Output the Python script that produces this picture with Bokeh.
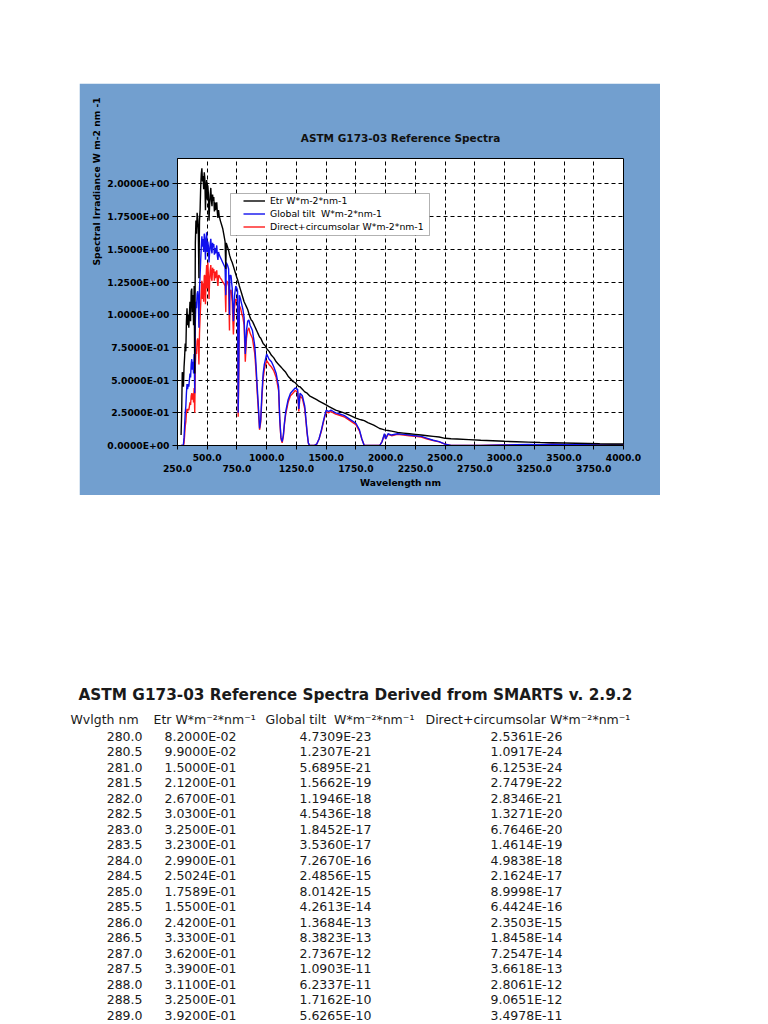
from bokeh.plotting import figure
from bokeh.models import (Range1d, FixedTicker, LinearAxis, Label, BoxAnnotation,
                          Legend, LegendItem, ColumnDataSource, Spacer, Title)
from bokeh.layouts import column, row
from bokeh.core.properties import value
from bokeh.embed import file_html
from bokeh.resources import INLINE

# ---------------- chart data ----------------
wvlgth = [
    280, 285, 290, 295, 300, 305, 310, 315, 320, 325,
    330, 335, 340, 345, 350, 355, 360, 365, 370, 375,
    380, 385, 390, 395, 400, 405, 410, 415, 420, 425,
    430, 435, 440, 445, 450, 455, 460, 465, 470, 475,
    480, 485, 490, 495, 500, 505, 510, 515, 520, 525,
    530, 535, 540, 545, 550, 555, 560, 565, 570, 575,
    580, 585, 590, 595, 600, 610, 620, 630, 640, 650,
    656, 660, 670, 680, 687, 690, 700, 710, 720, 730,
    740, 750, 755, 760, 765, 770, 780, 790, 800, 810,
    820, 830, 840, 850, 860, 870, 880, 890, 900, 910,
    920, 930, 940, 950, 960, 970, 980, 990, 1000, 1020,
    1040, 1060, 1080, 1100, 1110, 1120, 1130, 1140, 1150, 1160,
    1180, 1200, 1220, 1240, 1260, 1270, 1280, 1300, 1320, 1340,
    1350, 1360, 1380, 1400, 1420, 1440, 1460, 1480, 1500, 1520,
    1540, 1560, 1580, 1600, 1650, 1700, 1750, 1780, 1800, 1820,
    1850, 1900, 1950, 1970, 1990, 2000, 2020, 2050, 2100, 2150,
    2200, 2250, 2300, 2350, 2400, 2450, 2500, 2550, 2600, 2700,
    2800, 2900, 3000, 3100, 3200, 3300, 3400, 3500, 3600, 3700,
    3800, 3900, 4000,
]

etr = [
    0.08, 0.25, 0.56, 0.55, 0.45, 0.60, 0.68, 0.78, 0.72, 0.95,
    1.05, 0.92, 1.00, 0.90, 1.00, 1.10, 0.95, 1.18, 1.20, 1.02,
    1.15, 0.92, 1.22, 0.55, 1.55, 1.72, 1.62, 1.78, 1.74, 1.65,
    1.28, 1.72, 1.80, 1.98, 2.08, 2.12, 2.02, 2.06, 1.96, 2.09,
    2.04, 1.80, 1.98, 2.03, 1.88, 1.99, 1.92, 1.72, 1.84, 1.91,
    1.97, 1.88, 1.83, 1.92, 1.87, 1.90, 1.79, 1.86, 1.80, 1.84,
    1.86, 1.78, 1.74, 1.80, 1.76, 1.72, 1.69, 1.66, 1.61, 1.56,
    1.35, 1.55, 1.52, 1.49, 1.46, 1.45, 1.42, 1.40, 1.37, 1.34,
    1.31, 1.28, 1.27, 1.25, 1.24, 1.22, 1.19, 1.16, 1.13, 1.10,
    1.08, 1.06, 1.04, 1.01, 0.98, 0.96, 0.95, 0.93, 0.91, 0.89,
    0.87, 0.85, 0.83, 0.82, 0.80, 0.78, 0.77, 0.76, 0.74, 0.72,
    0.69, 0.67, 0.64, 0.62, 0.61, 0.60, 0.59, 0.58, 0.57, 0.56,
    0.53, 0.51, 0.49, 0.48, 0.46, 0.45, 0.45, 0.43, 0.41, 0.40,
    0.39, 0.38, 0.37, 0.36, 0.35, 0.34, 0.33, 0.32, 0.31, 0.30,
    0.29, 0.28, 0.27, 0.265, 0.25, 0.23, 0.21, 0.20, 0.195, 0.19,
    0.175, 0.155, 0.13, 0.125, 0.12, 0.118, 0.115, 0.11, 0.10, 0.095,
    0.09, 0.085, 0.08, 0.075, 0.07, 0.065, 0.055, 0.052, 0.05, 0.045,
    0.04, 0.036, 0.032, 0.029, 0.026, 0.023, 0.021, 0.019, 0.017, 0.015,
    0.013, 0.012, 0.011,
]

glob_tilt = [
    0.0, 0.0, 0.0, 0.0, 0.01, 0.06, 0.15, 0.25, 0.30, 0.40,
    0.47, 0.43, 0.47, 0.45, 0.50, 0.55, 0.52, 0.62, 0.66, 0.58,
    0.64, 0.55, 0.70, 0.40, 0.95, 1.10, 1.05, 1.16, 1.18, 1.12,
    0.90, 1.20, 1.30, 1.42, 1.52, 1.60, 1.52, 1.58, 1.48, 1.62,
    1.58, 1.42, 1.55, 1.63, 1.48, 1.56, 1.52, 1.40, 1.48, 1.54,
    1.58, 1.50, 1.47, 1.55, 1.52, 1.54, 1.46, 1.51, 1.47, 1.50,
    1.53, 1.45, 1.42, 1.48, 1.46, 1.44, 1.42, 1.40, 1.38, 1.36,
    1.15, 1.40, 1.38, 1.35, 1.00, 1.30, 1.30, 1.20, 0.95, 1.15,
    1.22, 1.20, 1.18, 0.25, 0.60, 1.15, 1.12, 1.08, 1.04, 0.98,
    0.70, 0.88, 0.95, 0.96, 0.92, 0.90, 0.88, 0.82, 0.76, 0.62,
    0.45, 0.30, 0.13, 0.20, 0.40, 0.55, 0.62, 0.66, 0.70, 0.66,
    0.64, 0.60, 0.55, 0.45, 0.20, 0.06, 0.03, 0.08, 0.18, 0.26,
    0.35, 0.40, 0.42, 0.44, 0.43, 0.28, 0.40, 0.38, 0.30, 0.10,
    0.02, 0.0, 0.0, 0.0, 0.01, 0.05, 0.12, 0.20, 0.27, 0.26,
    0.27, 0.26, 0.25, 0.245, 0.23, 0.20, 0.17, 0.12, 0.05, 0.0,
    0.0, 0.0, 0.0, 0.03, 0.09, 0.05, 0.09, 0.08, 0.09, 0.085,
    0.08, 0.075, 0.07, 0.055, 0.04, 0.03, 0.01, 0.0, 0.0, 0.0,
    0.0, 0.002, 0.004, 0.006, 0.008, 0.006, 0.01, 0.008, 0.007, 0.006,
    0.005, 0.005, 0.005,
]

direct = [
    0.0, 0.0, 0.0, 0.0, 0.0, 0.02, 0.08, 0.15, 0.18, 0.25,
    0.28, 0.26, 0.28, 0.27, 0.30, 0.33, 0.31, 0.38, 0.40, 0.35,
    0.40, 0.33, 0.44, 0.25, 0.62, 0.74, 0.70, 0.80, 0.82, 0.78,
    0.62, 0.86, 0.98, 1.08, 1.18, 1.26, 1.12, 1.24, 1.10, 1.30,
    1.30, 1.08, 1.28, 1.38, 1.20, 1.40, 1.30, 1.12, 1.26, 1.34,
    1.38, 1.28, 1.26, 1.36, 1.32, 1.35, 1.26, 1.33, 1.28, 1.32,
    1.34, 1.26, 1.22, 1.30, 1.30, 1.28, 1.27, 1.25, 1.24, 1.22,
    1.02, 1.26, 1.25, 1.22, 0.88, 1.18, 1.19, 1.10, 0.85, 1.06,
    1.12, 1.11, 1.10, 0.22, 0.52, 1.07, 1.05, 1.01, 0.98, 0.92,
    0.64, 0.82, 0.88, 0.90, 0.86, 0.84, 0.82, 0.76, 0.70, 0.57,
    0.41, 0.27, 0.12, 0.18, 0.37, 0.51, 0.58, 0.62, 0.65, 0.62,
    0.60, 0.57, 0.52, 0.42, 0.19, 0.05, 0.02, 0.07, 0.17, 0.24,
    0.33, 0.38, 0.40, 0.42, 0.41, 0.26, 0.38, 0.36, 0.28, 0.09,
    0.02, 0.0, 0.0, 0.0, 0.01, 0.05, 0.11, 0.19, 0.26, 0.25,
    0.26, 0.25, 0.24, 0.235, 0.22, 0.19, 0.16, 0.11, 0.05, 0.0,
    0.0, 0.0, 0.0, 0.03, 0.085, 0.05, 0.085, 0.075, 0.085, 0.08,
    0.075, 0.07, 0.065, 0.05, 0.038, 0.028, 0.01, 0.0, 0.0, 0.0,
    0.0, 0.002, 0.004, 0.005, 0.007, 0.005, 0.009, 0.007, 0.006, 0.005,
    0.005, 0.004, 0.004,
]

series_labels = ["Etr W*m-2*nm-1", "Global tilt\u00a0 W*m-2*nm-1",
                 "Direct+circumsolar W*m-2*nm-1"]

y_ticks = [0.0, 0.25, 0.5, 0.75, 1.0, 1.25, 1.5, 1.75, 2.0]
y_tick_labels = ["0.0000E+00", "2.5000E-01", "5.0000E-01", "7.5000E-01", "1.0000E+00",
                 "1.2500E+00", "1.5000E+00", "1.7500E+00", "2.0000E+00"]
x_ticks = [250, 500, 750, 1000, 1250, 1500, 1750, 2000, 2250, 2500, 2750, 3000,
           3250, 3500, 3750, 4000]
x_tick_labels = ["250.0", "500.0", "750.0", "1000.0", "1250.0", "1500.0", "1750.0",
                 "2000.0", "2250.0", "2500.0", "2750.0", "3000.0", "3250.0", "3500.0",
                 "3750.0", "4000.0"]

chart_title = "ASTM G173-03 Reference Spectra"
y_title = "Spectral Irradiance W m-2 nm -1"
x_title = "Wavelength nm"

# ---------------- table data ----------------
table_title = "ASTM G173-03 Reference Spectra Derived from SMARTS v. 2.9.2"
table_headers = ["Wvlgth nm", "Etr W*m\u207b\u00b2*nm\u207b\u00b9",
                 "Global tilt\u00a0 W*m\u207b\u00b2*nm\u207b\u00b9",
                 "Direct+circumsolar W*m\u207b\u00b2*nm\u207b\u00b9"]
tab_wl = [280.0, 280.5, 281.0, 281.5, 282.0, 282.5, 283.0, 283.5, 284.0, 284.5,
          285.0, 285.5, 286.0, 286.5, 287.0, 287.5, 288.0, 288.5, 289.0]
tab_etr = [8.2000E-02, 9.9000E-02, 1.5000E-01, 2.1200E-01, 2.6700E-01, 3.0300E-01,
           3.2500E-01, 3.2300E-01, 2.9900E-01, 2.5024E-01, 1.7589E-01, 1.5500E-01,
           2.4200E-01, 3.3300E-01, 3.6200E-01, 3.3900E-01, 3.1100E-01, 3.2500E-01,
           3.9200E-01]
tab_glob = [4.7309E-23, 1.2307E-21, 5.6895E-21, 1.5662E-19, 1.1946E-18, 4.5436E-18,
            1.8452E-17, 3.5360E-17, 7.2670E-16, 2.4856E-15, 8.0142E-15, 4.2613E-14,
            1.3684E-13, 8.3823E-13, 2.7367E-12, 1.0903E-11, 6.2337E-11, 1.7162E-10,
            5.6265E-10]
tab_dir = [2.5361E-26, 1.0917E-24, 6.1253E-24, 2.7479E-22, 2.8346E-21, 1.3271E-20,
           6.7646E-20, 1.4614E-19, 4.9838E-18, 2.1624E-17, 8.9998E-17, 6.4424E-16,
           2.3503E-15, 1.8458E-14, 7.2547E-14, 3.6618E-13, 2.8061E-12, 9.0651E-12,
           3.4978E-11]

# ---------------- styles ----------------
FONT = "DejaVu Sans"
PANEL = "#729fcf"
BOLD_SIZE = "9.2px"

p = figure(width=581, height=412, output_backend="svg", toolbar_location=None,
           x_range=Range1d(250, 4000), y_range=Range1d(0, 2.195),
           frame_width=446, frame_height=287,
           min_border_left=98, min_border_right=37, min_border_top=75,
           min_border_bottom=50, background_fill_color="white",
           border_fill_color=PANEL)
p.outline_line_color = "black"
p.outline_line_width = 1

p.title.text = chart_title
p.title.align = "center"
p.title.offset = 3
p.title.standoff = 30
p.title.text_font = FONT
p.title.text_font_style = "bold"
p.title.text_font_size = "10.5px"
p.title.text_color = "#111111"

# grid
p.xgrid.ticker = FixedTicker(ticks=x_ticks)
p.ygrid.ticker = FixedTicker(ticks=y_ticks)
for g in (p.xgrid[0], p.ygrid[0]):
    g.grid_line_color = "black"
    g.grid_line_dash = "4 3"
    g.grid_line_width = 1

# x axis, first row of labels
ax1 = p.xaxis[0]
ax1.ticker = FixedTicker(ticks=x_ticks)
ax1.major_label_overrides = {t: (lab if i % 2 == 1 else "")
                             for i, (t, lab) in enumerate(zip(x_ticks, x_tick_labels))}
# second row of labels
ax2 = LinearAxis(ticker=FixedTicker(ticks=x_ticks[0::2]),
                 major_label_overrides={t: lab for t, lab in
                                        zip(x_ticks[0::2], x_tick_labels[0::2])})
p.add_layout(ax2, "below")

for ax in (ax1, ax2):
    ax.minor_tick_line_color = None
    ax.major_label_text_font = FONT
    ax.major_label_text_font_style = "bold"
    ax.major_label_text_font_size = BOLD_SIZE
    ax.major_label_text_color = "black"
ax1.axis_line_color = "black"
ax1.major_tick_line_color = "black"
ax1.major_tick_in = 0
ax1.major_tick_out = 4
ax1.major_label_standoff = 4
ax2.axis_line_color = None
ax2.major_tick_line_color = None
ax2.major_tick_in = 0
ax2.major_tick_out = 0
ax2.major_label_standoff = 1
ax2.axis_label = x_title
ax2.axis_label_text_font = FONT
ax2.axis_label_text_font_style = "bold"
ax2.axis_label_text_font_size = BOLD_SIZE
ax2.axis_label_text_color = "black"
ax2.axis_label_standoff = 2

ay = p.yaxis[0]
ay.ticker = FixedTicker(ticks=y_ticks)
ay.major_label_overrides = {t: lab for t, lab in zip(y_ticks, y_tick_labels)}
ay.minor_tick_line_color = None
ay.major_tick_in = 0
ay.major_tick_out = 5
ay.major_label_standoff = 3
ay.axis_line_color = "black"
ay.major_tick_line_color = "black"
ay.major_label_text_font = FONT
ay.major_label_text_font_style = "bold"
ay.major_label_text_font_size = BOLD_SIZE
ay.major_label_text_color = "black"

# rotated y title, pushed up along the axis
p.add_layout(Title(text=y_title, align="left", offset=180, standoff=6,
                   text_font=FONT, text_font_style="bold",
                   text_font_size=BOLD_SIZE, text_color="black"), "left")

# spectra
r_dir = p.line(wvlgth, direct, line_color="#ff1a1a", line_width=1.4)
r_glob = p.line(wvlgth, glob_tilt, line_color="#1010ee", line_width=1.4)
r_etr = p.line(wvlgth, etr, line_color="black", line_width=1.4)

# legend box + legend
p.add_layout(BoxAnnotation(left=151, right=350, top=110, bottom=152,
                           left_units="canvas", right_units="canvas",
                           top_units="canvas", bottom_units="canvas",
                           fill_color="white", fill_alpha=1.0,
                           line_color="black", line_width=1))
legend = Legend(items=[LegendItem(label=series_labels[0], renderers=[r_etr]),
                       LegendItem(label=series_labels[1], renderers=[r_glob]),
                       LegendItem(label=series_labels[2], renderers=[r_dir])],
                location=(66, 212), orientation="vertical",
                border_line_color=None, background_fill_alpha=0.0,
                padding=0, spacing=0, margin=0, label_height=13, glyph_height=13,
                glyph_width=22, label_standoff=5,
                label_text_font=FONT, label_text_font_size="9.3px",
                label_text_color="black")
p.add_layout(legend)

# ---------------- table figure ----------------
T_TOP = 660
T_W, T_H = 760, 364
t = figure(width=T_W, height=T_H, output_backend="svg", toolbar_location=None,
           x_range=Range1d(0, T_W), y_range=Range1d(T_TOP + T_H, T_TOP),
           frame_width=T_W, frame_height=T_H,
           min_border=0, background_fill_color="white", border_fill_color="white")
t.axis.visible = False
t.grid.visible = False
t.outline_line_color = None

for fig in (p, t):
    try:
        fig.frame_align = False
    except AttributeError:
        pass

ROW0 = 735.5
ROW_H = 15.5
rows_y = [ROW0 + i * ROW_H for i in range(len(tab_wl))]
src = ColumnDataSource(dict(
    y=rows_y,
    wl=[f"{v:.1f}" for v in tab_wl],
    etr=[f"{v:.4E}" for v in tab_etr],
    glob=[f"{v:.4E}" for v in tab_glob],
    dir=[f"{v:.4E}" for v in tab_dir],
))
common = dict(text_font=value(FONT), text_font_size="12.5px", text_color="#1a1a1a",
              text_baseline="middle")
t.text(x=142, y="y", text="wl", source=src, text_align="right", **common)
t.text(x=200, y="y", text="etr", source=src, text_align="center", **common)
t.text(x=335, y="y", text="glob", source=src, text_align="center", **common)
t.text(x=526, y="y", text="dir", source=src, text_align="center", **common)

hdr_src = ColumnDataSource(dict(x=[70, 153, 265, 425], y=[719] * 4, text=table_headers))
t.text(x="x", y="y", text="text", source=hdr_src, text_align="left", **common)

t.add_layout(Label(x=78, y=694, text=table_title, text_align="left",
                   text_baseline="middle", text_font=FONT, text_font_style="bold",
                   text_font_size="15.3px", text_color="#1a1a1a"))

layout = column(Spacer(height=83),
                row(Spacer(width=79), p),
                Spacer(height=T_TOP - 495),
                t)
open("out.html", "w").write(file_html(layout, INLINE))
